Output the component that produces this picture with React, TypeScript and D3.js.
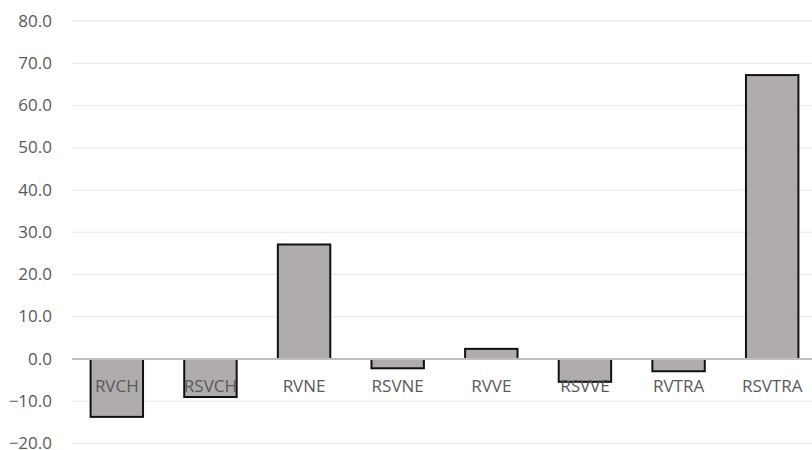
import React from 'react';
import * as d3 from 'd3';

// category names and values
const categories = ['RVCH', 'RSVCH', 'RVNE', 'RSVNE', 'RVVE', 'RSVVE', 'RVTRA', 'RSVTRA'];
const values = [-13.7, -9.0, 27.1, -2.2, 2.4, -5.4, -2.9, 67.2];
const yTicks = [-20, -10, 0, 10, 20, 30, 40, 50, 60, 70, 80];

const width = 812;
const height = 450;

export default function App() {
  const xScale = d3.scaleBand()
    .domain(categories)
    .range([70, 819])
    .paddingInner(0.44)
    .paddingOuter(0.22);
  const yScale = d3.scaleLinear()
    .domain([-20, 80])
    .range([443.5, 21]);

  const fmt = d3.format('.1f');
  const font = '"Open Sans", "Noto Sans", sans-serif';

  return (
    <svg
      width={width}
      height={height}
      style={{ position: 'absolute', left: 0, top: 0, background: '#fff' }}
    >
      <g>
        {yTicks.filter(t => t !== 0).map(t => (
          <line
            key={t}
            x1={72}
            x2={width}
            y1={yScale(t)}
            y2={yScale(t)}
            stroke="#e8e8e8"
            strokeWidth={1.2}
          />
        ))}
        {yTicks.map(t => (
          <text
            key={t}
            x={52}
            y={yScale(t)}
            dy="0.33em"
            textAnchor="end"
            fontFamily={font}
            fontSize={17}
            fill="#595959"
          >
            {fmt(t)}
          </text>
        ))}
      </g>
      <g>
        {values.map((v, i) => {
          const y0 = yScale(0);
          const y1 = yScale(v);
          return (
            <rect
              key={categories[i]}
              x={xScale(categories[i])}
              y={Math.min(y0, y1)}
              width={xScale.bandwidth()}
              height={Math.abs(y1 - y0)}
              fill="#b0acab"
              stroke="#111"
              strokeWidth={2}
            />
          );
        })}
      </g>
      <line
        x1={72}
        x2={width}
        y1={yScale(0)}
        y2={yScale(0)}
        stroke="#bfbfbf"
        strokeWidth={2}
      />
      <g>
        {categories.map(c => (
          <text
            key={c}
            x={(xScale(c) || 0) + xScale.bandwidth() / 2}
            y={386.5}
            dy="0.35em"
            textAnchor="middle"
            fontFamily={font}
            fontSize={17}
            fill="#595959"
          >
            {c}
          </text>
        ))}
      </g>
    </svg>
  );
}
